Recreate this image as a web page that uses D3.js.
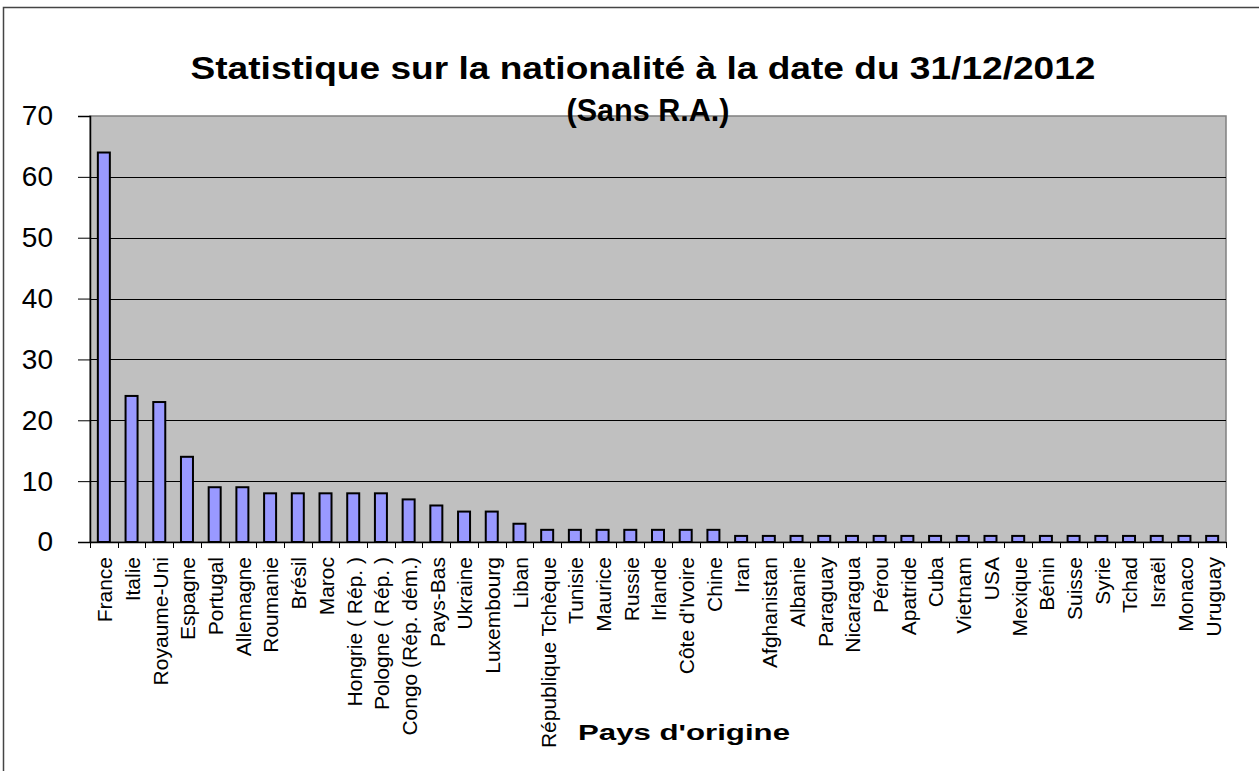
<!DOCTYPE html>
<html>
<head>
<meta charset="utf-8">
<script src="https://cdn.jsdelivr.net/npm/d3@7"></script>
<style>
  body { margin: 0; background: #fff; }
  svg { display: block; font-family: "Liberation Sans", Arial, sans-serif; }
</style>
</head>
<body>
<script>
// pays et effectifs
const pays = ["France", "Italie", "Royaume-Uni", "Espagne", "Portugal", "Allemagne", "Roumanie",
  "Brésil", "Maroc", "Hongrie ( Rép. )", "Pologne ( Rép. )", "Congo (Rép. dém.)", "Pays-Bas",
  "Ukraine", "Luxembourg", "Liban", "République Tchèque", "Tunisie", "Maurice", "Russie",
  "Irlande", "Côte d'Ivoire", "Chine", "Iran", "Afghanistan", "Albanie", "Paraguay", "Nicaragua",
  "Pérou", "Apatride", "Cuba", "Vietnam", "USA", "Mexique", "Bénin", "Suisse", "Syrie", "Tchad",
  "Israël", "Monaco", "Uruguay"];
const effectifs = [64, 24, 23, 14, 9, 9, 8, 8, 8, 8, 8, 7, 6, 5, 5, 3, 2, 2, 2, 2, 2, 2, 2,
  1, 1, 1, 1, 1, 1, 1, 1, 1, 1, 1, 1, 1, 1, 1, 1, 1, 1];
const yTicks = [0, 10, 20, 30, 40, 50, 60, 70];

const titre1 = "Statistique sur la nationalité à la date du 31/12/2012";
const titre2 = "(Sans R.A.)";
const titreX = "Pays d'origine";

const width = 1259, height = 771;
const plot = { left: 90, top: 116, right: 1226, bottom: 542 };

const svg = d3.select("body").append("svg")
  .attr("width", width)
  .attr("height", height);

// cadre extérieur
svg.append("rect")
  .attr("x", 3.5).attr("y", 7.5)
  .attr("width", width + 10).attr("height", height + 10)
  .attr("fill", "none")
  .attr("stroke", "#444")
  .attr("stroke-width", 1.5);

const x = d3.scaleBand().domain(pays).range([plot.left, plot.right]);
const y = d3.scaleLinear().domain([0, 70]).range([plot.bottom, plot.top]);

// fond gris
svg.append("rect")
  .attr("x", plot.left).attr("y", plot.top)
  .attr("width", plot.right - plot.left).attr("height", plot.bottom - plot.top)
  .attr("fill", "#c0c0c0")
  .attr("stroke", "#808080")
  .attr("stroke-width", 1.5);

// lignes de grille
svg.append("g").selectAll("line")
  .data(yTicks.filter(d => d > 0 && d < 70))
  .join("line")
  .attr("x1", plot.left).attr("x2", plot.right)
  .attr("y1", d => Math.round(y(d)) + 0.5).attr("y2", d => Math.round(y(d)) + 0.5)
  .attr("stroke", "#000").attr("stroke-width", 1);

// barres
const bw = 12;
svg.append("g").selectAll("rect")
  .data(effectifs)
  .join("rect")
  .attr("x", (d, i) => x(pays[i]) + x.bandwidth() / 2 - bw / 2)
  .attr("y", d => y(d))
  .attr("width", bw)
  .attr("height", d => y(0) - y(d))
  .attr("fill", "#9999ff")
  .attr("stroke", "#000")
  .attr("stroke-width", 2);

// axe Y
const yAxis = svg.append("g")
  .attr("transform", `translate(${plot.left},0)`)
  .call(d3.axisLeft(y).tickValues(yTicks).tickSize(12).tickPadding(25));
yAxis.select(".domain").attr("stroke", "#000").attr("stroke-width", 1.5);
yAxis.selectAll(".tick line").attr("stroke", "#000");
yAxis.selectAll("text")
  .attr("font-size", 28)
  .attr("fill", "#000")
  .attr("font-family", "Liberation Sans, Arial, sans-serif");

// axe X
const xAxis = svg.append("g")
  .attr("transform", `translate(0,${plot.bottom})`)
  .call(d3.axisBottom(x).tickSize(0).tickPadding(0));
xAxis.select(".domain").attr("stroke", "#000").attr("stroke-width", 1.5);
xAxis.selectAll("text")
  .attr("transform", "rotate(-90)")
  .attr("x", -15)
  .attr("y", 1)
  .attr("dy", "0.35em")
  .attr("text-anchor", "end")
  .attr("font-size", 21)
  .attr("fill", "#000")
  .attr("font-family", "Liberation Sans, Arial, sans-serif");

// séparateurs entre catégories
svg.append("g").selectAll("line")
  .data(d3.range(pays.length + 1))
  .join("line")
  .attr("x1", i => Math.round(plot.left + i * x.step()) + 0.5)
  .attr("x2", i => Math.round(plot.left + i * x.step()) + 0.5)
  .attr("y1", plot.bottom).attr("y2", plot.bottom + 6)
  .attr("stroke", "#000");

// titres (texte étiré comme dans l'original)
function titre(txt, cx, by, size, len) {
  svg.append("text")
    .attr("x", cx).attr("y", by)
    .attr("text-anchor", "middle")
    .attr("font-size", size).attr("font-weight", "bold")
    .attr("textLength", len)
    .attr("lengthAdjust", "spacingAndGlyphs")
    .text(txt);
}
titre(titre1, 643, 79, 31, 905);
titre(titre2, 648, 121, 31, 163);
titre(titreX, 684, 740, 22, 212);
</script>
</body>
</html>
